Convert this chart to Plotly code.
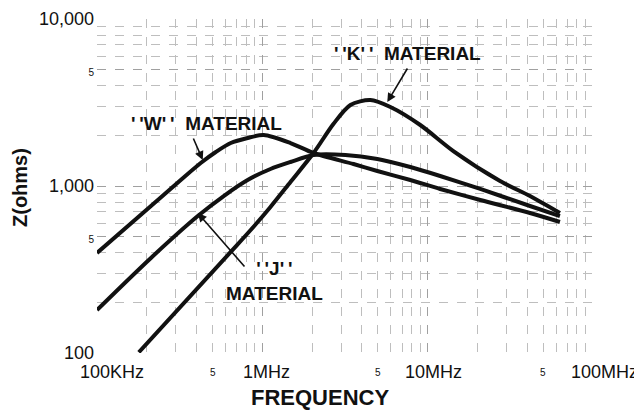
import numpy as np
import plotly.graph_objects as go

# ---------------- data ----------------
w_freq = [1.0e5, 2.12e5, 3.21e5, 4.24e5, 5.23e5, 6.44e5, 8.15e5, 1.02e6, 1.48e6, 2.04e6,
          3.56e6, 4.96e6, 7.85e6, 1.19e7, 2.08e7, 4.16e7, 6.31e7]
w_z    = [397, 759, 1086, 1373, 1598, 1809, 1939, 2020, 1809, 1576,
          1354, 1230, 1086, 960, 825, 689, 609]

j_freq = [1.0e5, 2.12e5, 4.07e5, 5.84e5, 8.15e5, 1.12e6, 1.48e6, 2.04e6, 3.18e6, 4.96e6,
          7.85e6, 1.19e7, 2.08e7, 4.16e7, 6.31e7]
j_z    = [181, 371, 661, 871, 1086, 1264, 1392, 1533, 1533, 1451,
          1299, 1148, 960, 759, 661]

k_freq = [1.79e5, 6.44e5, 8.50e5, 1.12e6, 1.48e6, 2.04e6, 2.69e6, 3.41e6, 4.50e6,
          5.95e6, 9.02e6, 1.43e7, 2.74e7, 4.16e7, 6.31e7]
k_z    = [101, 403, 545, 749, 1057, 1576, 2351, 3055, 3273,
          2972, 2319, 1620, 1072, 871, 689]

x_tick_vals   = [1e5, 5e5, 1e6, 5e6, 1e7, 5e7, 1e8]
x_tick_labels = ["100KHz", "5", "1MHz", "5", "10MHz", "5", "100MHz"]
y_tick_vals   = [100, 500, 1000, 5000, 10000]
y_tick_labels = ["100", "5", "1,000", "5", "10,000"]

# ---------------- style ----------------
FONT = "Liberation Sans, Arial, sans-serif"
TICK = 18
LAB = 19
SMALL = 10
x_label_shift = [15, 0, 4, 0, 6, 0, 11]

def fmt(t):
    return f'<span style="font-size:{SMALL}px">{t}</span>' if t == "5" else t

def quoted(letter):
    return "'\u2009'" + letter + "'\u2009'"

fig = go.Figure()
for fx, fz in [(w_freq, w_z), (j_freq, j_z), (k_freq, k_z)]:
    fig.add_trace(go.Scatter(x=fx, y=fz, mode="lines",
                             line=dict(color="#111111", width=4, shape="spline", smoothing=0.8),
                             showlegend=False, hoverinfo="skip"))

minor_x = [m * 10 ** e for e in range(5, 8) for m in range(2, 10)]
minor_y = [m * 10 ** e for e in range(2, 4) for m in range(2, 10)]

fig.update_xaxes(type="log", range=[5, 8], showticklabels=False, ticks="",
                 tickvals=[1e5, 1e6, 1e7, 1e8], showgrid=True,
                 gridcolor="#a0a0a0", griddash="dash", gridwidth=1,
                 minor=dict(tickvals=minor_x, showgrid=True, gridcolor="#bebebe",
                            griddash="dash", gridwidth=1, ticks=""),
                 zeroline=False, showline=False, automargin=False)
fig.update_yaxes(type="log", range=[2, 4], tickvals=y_tick_vals,
                 ticktext=[fmt(t) for t in y_tick_labels], ticks="",
                 tickfont=dict(family=FONT, size=TICK, color="#111"),
                 ticklabelstandoff=2,
                 showgrid=True, gridcolor="#a0a0a0", griddash="dash", gridwidth=1,
                 minor=dict(tickvals=minor_y, showgrid=True, gridcolor="#bebebe",
                            griddash="dash", gridwidth=1, ticks=""),
                 zeroline=False, showline=False, automargin=False)

ann = []
for v, t, s in zip(x_tick_vals, x_tick_labels, x_label_shift):
    ann.append(dict(x=np.log10(v), y=0, xref="x", yref="paper", text=fmt(t),
                    showarrow=False, xanchor="center", yanchor="middle",
                    xshift=s, yshift=-19,
                    font=dict(family=FONT, size=TICK, color="#111")))

ann.append(dict(x=(320 - 97) / 496, y=(353 - 398) / 334, xref="paper", yref="paper",
                text="<b>FREQUENCY</b>", showarrow=False, xanchor="center", yanchor="middle",
                font=dict(family=FONT, size=22, color="#111")))
ann.append(dict(x=(20 - 97) / 496, y=(353 - 188) / 334, xref="paper", yref="paper",
                text="<b>Z(ohms)</b>", showarrow=False, xanchor="center", yanchor="middle",
                textangle=-90, font=dict(family=FONT, size=20, color="#111")))

lab_font = dict(family=FONT, size=LAB, color="#111")
ann.append(dict(x=(129 - 97) / 496, y=(353 - 123) / 334, xref="paper", yref="paper",
                text="<b>" + quoted("W") + "\u00a0\u00a0MATERIAL</b>", showarrow=False,
                xanchor="left", yanchor="middle", font=lab_font))
ann.append(dict(x=(332 - 97) / 496, y=(353 - 53) / 334, xref="paper", yref="paper",
                text="<b>" + quoted("K") + "\u00a0\u00a0MATERIAL</b>", showarrow=False,
                xanchor="left", yanchor="middle", font=lab_font))
ann.append(dict(x=(274 - 97) / 496, y=(353 - 281) / 334, xref="paper", yref="paper",
                text="<b>" + quoted("J") + "<br>MATERIAL</b>", showarrow=False,
                xanchor="center", yanchor="middle", font=lab_font))

# arrows (head in data coords, tail offset in px)
for hx, hy, ax, ay in [(4.36e5, 1431, -10, -23), (5.70e6, 3184, 21, -35), (4.07e5, 689, 48, 55)]:
    ann.append(dict(x=np.log10(hx), y=np.log10(hy), xref="x", yref="y", text="",
                    showarrow=True, arrowhead=2, arrowsize=1.1, arrowwidth=1.6,
                    arrowcolor="#111", ax=ax, ay=ay, standoff=0))

# page body has an 8px margin: the figure is made 8px smaller on each axis
fig.update_layout(width=634, height=404, margin=dict(l=89, r=49, t=11, b=59),
                  paper_bgcolor="white", plot_bgcolor="white",
                  annotations=ann, font=dict(family=FONT, color="#111"))

fig.write_html("out.html")
